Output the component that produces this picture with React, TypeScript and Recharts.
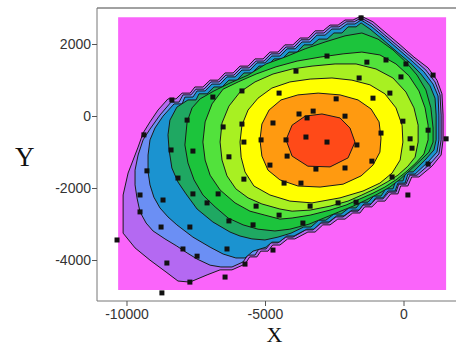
import React from 'react';
import { ScatterChart, Scatter, XAxis, YAxis, Polygon, Label } from 'recharts';

type Pt = [number, number];

const xTicks = [-10000, -5000, 0];
const yTicks = [-4000, -2000, 0, 2000];

// grid extent (filled background of the contour map)
const gridExtent: Pt[] = [
  [-10320, 2760], [1520, 2760], [1520, -4820], [-10320, -4820],
];

// contour bands, outermost first; each is a closed outline in X/Y units.
// the outer four follow the stepped edge of the gridded region
const band1: Pt[] = [
  [-1550, 2790], [-1120, 2630], [-650, 2320], [-140, 1990], [360, 1650], [870, 1350],
  [1190, 1010], [1370, 630], [1410, 40], [1410, -650], [1340, -1070], [1010, -1380],
  [540, -1680], [280, -1680], [140, -1930], [-120, -1930], [-220, -2150], [-480, -2150],
  [-690, -2350], [-950, -2350], [-1160, -2510], [-1420, -2510], [-1590, -2680], [-1850, -2680],
  [-2130, -2850], [-2390, -2850], [-2670, -3010], [-2930, -3010], [-3210, -3210], [-3470, -3210],
  [-3940, -3400], [-4200, -3400], [-4480, -3570], [-4740, -3570], [-4910, -3740], [-5170, -3740],
  [-5310, -3900], [-5570, -3900], [-5740, -4100], [-6210, -4260], [-6640, -4260], [-7110, -4400],
  [-7730, -4600], [-8160, -4570], [-8590, -4320], [-9170, -3990], [-9710, -3650], [-10140, -3240],
  [-10140, -2180], [-9960, -1570], [-9780, -1210], [-9600, -850], [-9420, -460], [-9170, -150],
  [-8880, 180], [-8520, 490], [-8230, 490], [-8010, 650], [-7720, 650], [-7550, 820],
  [-7260, 820], [-7000, 1010], [-6710, 1010], [-6460, 1210], [-6170, 1210], [-5920, 1400],
  [-5630, 1400], [-5380, 1600], [-5090, 1600], [-4840, 1790], [-4550, 1790], [-4300, 1990],
  [-4010, 1990], [-3750, 2180], [-3460, 2180], [-3210, 2380], [-2920, 2380], [-2670, 2540],
  [-2380, 2540], [-2130, 2680], [-1840, 2680],
];

const band2: Pt[] = [
  [-1550, 2740], [-1160, 2570], [-690, 2260], [-180, 1930], [330, 1600], [790, 1290],
  [1120, 960], [1300, 600], [1340, 40], [1340, -650], [1260, -1040], [940, -1320],
  [470, -1630], [210, -1630], [70, -1880], [-190, -1880], [-290, -2100], [-550, -2100],
  [-760, -2290], [-1020, -2290], [-1230, -2460], [-1490, -2460], [-1660, -2630], [-1920, -2630],
  [-2200, -2790], [-2460, -2790], [-2740, -2960], [-3000, -2960], [-3290, -3150], [-3550, -3150],
  [-4010, -3350], [-4270, -3350], [-4550, -3510], [-4810, -3510], [-4980, -3680], [-5240, -3680],
  [-5380, -3850], [-5640, -3850], [-5810, -4040], [-6210, -4180], [-6610, -4180], [-7000, -4130],
  [-7470, -3960], [-7830, -3790], [-8200, -3600], [-8630, -3400], [-9060, -3180], [-9310, -2960],
  [-9530, -2650], [-9640, -2260], [-9710, -1900], [-9710, -1490], [-9600, -1070], [-9420, -650],
  [-9170, -350], [-8810, 40], [-8410, 400], [-8120, 400], [-7980, 600], [-7690, 600],
  [-7510, 760], [-7220, 760], [-6970, 960], [-6680, 960], [-6430, 1150], [-6140, 1150],
  [-5880, 1350], [-5590, 1350], [-5340, 1540], [-5050, 1540], [-4800, 1740], [-4510, 1740],
  [-4260, 1930], [-3970, 1930], [-3720, 2130], [-3430, 2130], [-3180, 2320], [-2890, 2320],
  [-2640, 2490], [-2350, 2490], [-2090, 2630], [-1800, 2630],
];

const band3: Pt[] = [
  [-1550, 2680], [-1190, 2510], [-720, 2210], [-220, 1880], [290, 1540], [720, 1240],
  [1050, 900], [1230, 570], [1260, 40], [1260, -650], [1190, -990], [870, -1260],
  [400, -1600], [140, -1600], [40, -1850], [-220, -1850], [-320, -2070], [-580, -2070],
  [-760, -2260], [-1020, -2260], [-1190, -2430], [-1450, -2430], [-1620, -2600], [-1880, -2600],
  [-2170, -2760], [-2430, -2760], [-2710, -2930], [-2970, -2930], [-3250, -3130], [-3510, -3130],
  [-3970, -3320], [-4230, -3320], [-4510, -3490], [-4770, -3490], [-4980, -3630], [-5450, -3740],
  [-5740, -3930], [-6070, -3930], [-6530, -3820], [-7000, -3630], [-7620, -3350], [-8200, -3010],
  [-8520, -2790], [-8810, -2540], [-9030, -2240], [-9170, -1900], [-9240, -1540], [-9240, -1070],
  [-9170, -650], [-8990, -320], [-8700, 10], [-8300, 350], [-8010, 350], [-7910, 540],
  [-7620, 540], [-7470, 710], [-7180, 710], [-6930, 900], [-6640, 900], [-6390, 1100],
  [-6100, 1100], [-5850, 1290], [-5560, 1290], [-5310, 1490], [-5020, 1490], [-4770, 1680],
  [-4480, 1680], [-4220, 1880], [-3930, 1880], [-3680, 2070], [-3390, 2070], [-3140, 2260],
  [-2850, 2260], [-2600, 2430], [-2310, 2430], [-2060, 2570], [-1770, 2570],
];

const band4: Pt[] = [
  [-1550, 2600], [-1230, 2430], [-790, 2150], [-290, 1820], [220, 1490], [610, 1180],
  [940, 850], [1120, 510], [1160, 40], [1160, -650], [1080, -930], [760, -1210],
  [330, -1540], [70, -1540], [-40, -1790], [-300, -1790], [-400, -2010], [-660, -2010],
  [-830, -2210], [-1090, -2210], [-1300, -2380], [-1560, -2380], [-1730, -2540], [-1990, -2540],
  [-2270, -2710], [-2530, -2710], [-2820, -2880], [-3080, -2880], [-3360, -3070], [-3620, -3070],
  [-4080, -3240], [-4550, -3350], [-5020, -3430], [-5490, -3400], [-5920, -3320], [-6280, -3210],
  [-6900, -2930], [-7470, -2570], [-7870, -2150], [-8160, -1820], [-8380, -1430], [-8480, -930],
  [-8520, -510], [-8450, -100], [-8200, 260], [-7800, 460], [-7510, 460], [-7400, 630],
  [-7110, 630], [-6860, 820], [-6570, 820], [-6320, 1010], [-6030, 1010], [-5780, 1210],
  [-5490, 1210], [-5230, 1400], [-4940, 1400], [-4690, 1600], [-4400, 1600], [-4150, 1790],
  [-3860, 1790], [-3610, 1990], [-3320, 1990], [-3070, 2150], [-2780, 2150], [-2530, 2320],
  [-2240, 2320], [-2020, 2490], [-1730, 2490],
];

const band5: Pt[] = [
  [-1520, 2320], [-940, 2150], [-400, 1850], [70, 1510], [470, 1150], [790, 740],
  [970, 240], [1050, -320], [1050, -710], [900, -990], [610, -1210], [220, -1490],
  [-140, -1740], [-510, -1960], [-940, -2150], [-1370, -2320], [-1840, -2490], [-2350, -2650],
  [-2890, -2820], [-3430, -2990], [-4120, -3130], [-4660, -3180], [-5270, -3130], [-5810, -3010],
  [-6350, -2820], [-6820, -2510], [-7260, -2180], [-7580, -1760], [-7800, -1290], [-7910, -790],
  [-7830, -150], [-7650, 240], [-7360, 490], [-6860, 710], [-6280, 930], [-5630, 1150],
  [-4980, 1460], [-4300, 1650], [-3570, 1880], [-2850, 2070], [-2130, 2240],
];

const band6: Pt[] = [
  [-1520, 1790], [-870, 1710], [-290, 1460], [180, 1130], [540, 710], [760, 240],
  [870, -240], [870, -650], [720, -1040], [430, -1290], [70, -1540], [-290, -1760],
  [-690, -1960], [-1120, -2130], [-1590, -2290], [-2090, -2460], [-2670, -2600], [-3390, -2740],
  [-4040, -2820], [-4480, -2850], [-5020, -2740], [-5560, -2630], [-6100, -2400], [-6640, -2040],
  [-7000, -1630], [-7180, -1210], [-7260, -710], [-7180, -150], [-6930, 350], [-6530, 760],
  [-5990, 960], [-5340, 1180], [-4620, 1380], [-3860, 1540], [-3030, 1650], [-2200, 1740],
];

const band7: Pt[] = [
  [-6640, -710], [-6570, -180], [-6320, 290], [-5920, 680], [-5380, 960], [-4730, 1180],
  [-4040, 1320], [-3320, 1400], [-2490, 1460], [-1730, 1460], [-1010, 1320], [-400, 1070],
  [70, 680], [360, 240], [510, -240], [510, -710], [400, -1130], [140, -1380],
  [-220, -1630], [-610, -1820], [-1050, -2010], [-1520, -2180], [-2020, -2350], [-2670, -2490],
  [-3390, -2600], [-4040, -2630], [-4480, -2570], [-5130, -2430], [-5630, -2260], [-6070, -2010],
  [-6390, -1650], [-6570, -1210],
];

const band8: Pt[] = [
  [-5920, -710], [-5850, -240], [-5630, 180], [-5270, 510], [-4770, 790], [-4120, 960],
  [-3390, 1040], [-2600, 1070], [-1880, 1010], [-1230, 880], [-690, 630], [-290, 240],
  [-70, -240], [-40, -710], [-140, -1210], [-430, -1570], [-870, -1850], [-1480, -2070],
  [-2310, -2260], [-3320, -2400], [-4120, -2350], [-4840, -2180], [-5420, -1930], [-5740, -1540],
  [-5880, -1130],
];

const band9: Pt[] = [
  [-5200, -650], [-5130, -210], [-4870, 180], [-4440, 460], [-3830, 600], [-3100, 650],
  [-2310, 600], [-1660, 460], [-1190, 210], [-900, -150], [-830, -600], [-870, -990],
  [-1120, -1350], [-1550, -1650], [-2200, -1880], [-3030, -1960], [-3830, -1930], [-4480, -1760],
  [-4910, -1490], [-5130, -1100],
];

const band10: Pt[] = [
  [-4260, -650], [-4040, -240], [-3570, 10], [-2960, 70], [-2310, -40], [-1950, -320],
  [-1770, -710], [-2020, -1150], [-2670, -1400], [-3470, -1380], [-4040, -1100],
];

// measured sample locations
const samples: Pt[] = [
  [-1550, 2740], [-2780, 1680], [-1340, 1510], [-650, 1570], [70, 1460], [-3900, 1260],
  [-1620, 1070], [-110, 1100], [1050, 1150], [-5850, 710], [-4510, 650], [-2450, 490],
  [-1120, 510], [-510, 650], [-3280, 150], [-3790, 70], [-2130, 10], [-3500, -40],
  [-4730, -180], [-5850, -210], [-40, -130], [-830, -460], [870, -380], [220, -620],
  [1520, -620], [-3540, -570], [-2780, -710], [-4260, -650], [-1700, -790], [-5160, -650],
  [-5780, -710], [-6320, -1120], [290, -880], [-4220, -1100], [-1160, -1240], [-4840, -1350],
  [-3180, -1460], [-2130, -1430], [870, -1320], [-8380, 460], [-6900, 540], [-7830, -100],
  [-6530, -290], [-9390, -510], [-8410, -930], [-7620, -960], [-9280, -1510], [-8160, -1710],
  [-9530, -2180], [-8700, -2320], [-9530, -2650], [-7620, -2150], [-6710, -2150], [-7110, -2400],
  [-8770, -3070], [-7730, -3070], [-6390, -3680], [-7980, -3680], [-7470, -3880], [-10360, -3430],
  [-8560, -4070], [-7730, -4600], [-6460, -4460], [-8740, -4900], [-5780, -1740], [-4330, -1850],
  [-3720, -1850], [-430, -1680], [140, -2180], [-5340, -2490], [-3390, -2490], [-2380, -2400],
  [-1730, -2380], [-4510, -2740], [-5450, -3010], [-6320, -2900], [-3650, -2960], [-4730, -3710],
  [-5740, -4100],
];

const bands = [
  { id: 'b1', color: '#b469f2', path: band1 },
  { id: 'b2', color: '#6b8ff4', path: band2 },
  { id: 'b3', color: '#1b93d0', path: band3 },
  { id: 'b4', color: '#1fa862', path: band4 },
  { id: 'b5', color: '#1cc43c', path: band5 },
  { id: 'b6', color: '#52e23c', path: band6 },
  { id: 'b7', color: '#a8f022', path: band7 },
  { id: 'b8', color: '#ffff00', path: band8 },
  { id: 'b9', color: '#ff9a10', path: band9 },
  { id: 'b10', color: '#ff4a18', path: band10 },
];

const toRows = (pts: Pt[]) => pts.map(([x, y]) => ({ x, y }));

// the scatter "line" gets the projected vertices; close them into a filled polygon
const filledOutline = (fill: string, stroke: string) => (props: any) => (
  <Polygon points={props.points} fill={fill} stroke={stroke} strokeWidth={1} />
);

const noMarker = () => <g />;

const SquareMarker = (props: any) => (
  <rect x={props.cx - 2.5} y={props.cy - 2.5} width={5} height={5} fill="#111" />
);

const tickStyle = { fontSize: 14, fill: '#333', fontFamily: 'Liberation Sans, Arial, sans-serif' };
const titleStyle = { fontSize: 22, fill: '#111', fontFamily: 'Liberation Serif, Times New Roman, serif' };

export default function App() {
  return (
    <div style={{ position: 'absolute', left: 0, top: 0, background: '#fff' }}>
      <ScatterChart width={456} height={347} margin={{ top: 7, right: 0, bottom: 0, left: 0 }}>
        <XAxis
          type="number"
          dataKey="x"
          domain={[-11083, 1877]}
          allowDataOverflow
          ticks={xTicks}
          interval={0}
          height={46}
          tickSize={5}
          tickMargin={3}
          tick={tickStyle}
          axisLine={{ stroke: '#777' }}
          tickLine={{ stroke: '#555' }}
        >
          <Label value="X" position="insideBottom" offset={5} dx={-2} style={titleStyle} />
        </XAxis>
        <XAxis
          xAxisId="frame"
          orientation="top"
          type="number"
          dataKey="x"
          domain={[-11083, 1877]}
          allowDataOverflow
          height={1}
          tick={false}
          tickLine={false}
          axisLine={{ stroke: '#444' }}
        />
        <YAxis
          type="number"
          dataKey="y"
          domain={[-5125, 3014]}
          allowDataOverflow
          ticks={yTicks}
          interval={0}
          width={97}
          tickSize={5}
          tickMargin={1}
          tick={tickStyle}
          axisLine={{ stroke: '#777' }}
          tickLine={{ stroke: '#555' }}
        >
          <Label value="Y" position="insideLeft" offset={15} dy={2} style={{ ...titleStyle, fontSize: 27 }} />
        </YAxis>

        <Scatter
          data={toRows(gridExtent)}
          line={filledOutline('#fa64fa', 'none')}
          shape={noMarker}
          isAnimationActive={false}
        />
        {bands.map((b) => (
          <Scatter
            key={b.id}
            data={toRows(b.path)}
            line={filledOutline(b.color, '#1a1a1a')}
            shape={noMarker}
            isAnimationActive={false}
          />
        ))}
        <Scatter data={toRows(samples)} shape={SquareMarker} isAnimationActive={false} />
      </ScatterChart>
    </div>
  );
}
